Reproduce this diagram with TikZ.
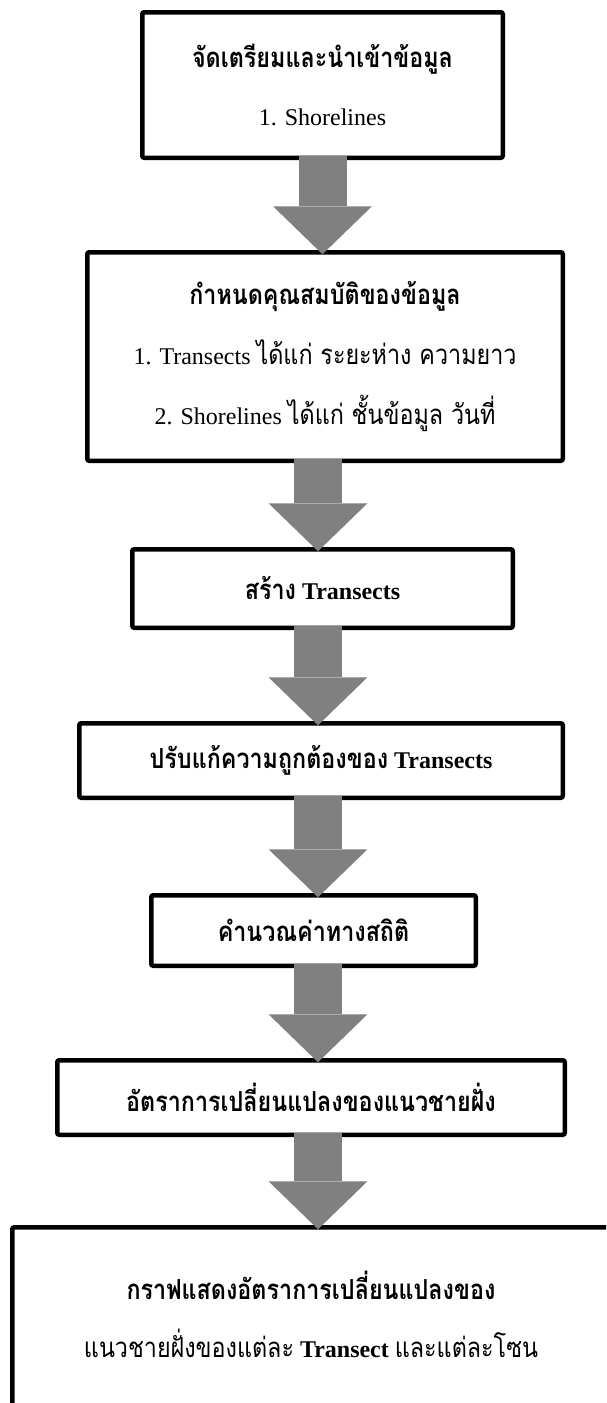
\documentclass[tikz,border=0pt]{standalone}
\usepackage{fontspec}
\setmainfont{Liberation Serif}
\newfontfamily\thaif[Script=Thai,Scale=1.15,FakeStretch=0.845]{Loma}
\usetikzlibrary{arrows.meta}
\definecolor{arrowgray}{RGB}{128,128,128}
\begin{document}
\begin{tikzpicture}[x=1pt,y=-1pt,
  box/.style={draw=black, line width=4.5pt, rounded corners=2pt, fill=white,
    inner sep=0pt, outer sep=0pt, align=center, font=\fontsize{24}{58}\selectfont},
  txt/.style={inner sep=0pt, align=center, font=\fontsize{24}{58}\selectfont},
  fat/.style={draw=arrowgray, line width=48pt,
    -{Triangle[width=99pt,length=48pt,line width=0pt]},
    shorten <=-2pt, shorten >=-2pt}]
\useasboundingbox (0,0) rectangle (606,1403);
\fill[white] (0,0) rectangle (606,1403);
\clip (0,0) rectangle (606,1403);

\node[box, minimum width=360.5pt, minimum height=145.5pt] (b1) at (322.5,85)
  {{\thaif\bfseries จัดเตรียมและนำเข้าข้อมูล}\\1. Shorelines};
\node[box, minimum width=475.5pt, minimum height=208.5pt, font=\fontsize{24}{60}\selectfont] (b2) at (325,356.5)
  {{\thaif\bfseries กำหนดคุณสมบัติของข้อมูล}\\1. Transects {\thaif ได้แก่ ระยะห่าง ความยาว}\\2. Shorelines {\thaif ได้แก่ ชั้นข้อมูล วันที่}};
\node[box, minimum width=380.5pt, minimum height=78.5pt] (b3) at (322.5,588.5)
  {\bfseries{\thaif สร้าง} Transects};
\node[box, minimum width=483.5pt, minimum height=74.5pt] (b4) at (321,760.5)
  {\bfseries{\thaif ปรับแก้ความถูกต้องของ} Transects};
\node[box, minimum width=324.5pt, minimum height=70.5pt] (b5) at (313.5,930.5)
  {{\thaif\bfseries คำนวณค่าทางสถิติ}};
\node[box, minimum width=507.5pt, minimum height=74.5pt] (b6) at (311,1097.5)
  {{\thaif\bfseries อัตราการเปลี่ยนแปลงของแนวชายฝั่ง}};
\node[box, minimum width=640pt, minimum height=240pt, anchor=north west] (b7) at (12.25,1227.25) {};
\node[txt] (b7t) at (311,1314)
  {{\thaif\bfseries กราฟแสดงอัตราการเปลี่ยนแปลงของ}\\{\thaif แนวชายฝั่งของแต่ละ} \textbf{Transect} {\thaif และแต่ละโซน}};

\coordinate (a1) at (322.5,0);
\coordinate (a2) at (318,0);
\draw[fat] (b1.south -| a1) -- (b2.north -| a1);
\draw[fat] (b2.south -| a2) -- (b3.north -| a2);
\draw[fat] (b3.south -| a2) -- (b4.north -| a2);
\draw[fat] (b4.south -| a2) -- (b5.north -| a2);
\draw[fat] (b5.south -| a2) -- (b6.north -| a2);
\draw[fat] (b6.south -| a2) -- (b7.north -| a2);
\end{tikzpicture}
\end{document}
